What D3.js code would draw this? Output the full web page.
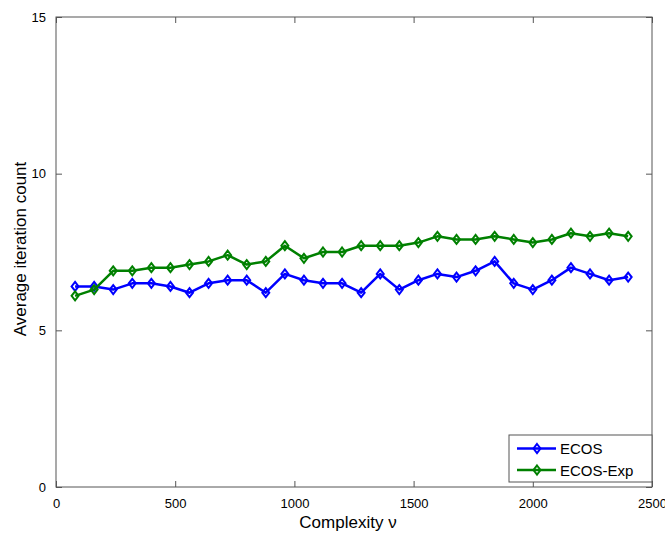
<!DOCTYPE html>
<html>
<head>
<meta charset="utf-8">
<script src="https://cdn.jsdelivr.net/npm/d3@7"></script>
<style>
  body { margin: 0; background: #fff; }
  text { font-family: "Liberation Sans", Arial, sans-serif; }
</style>
</head>
<body>
<div id="viz-container"></div>
<script>
// data
let complexity = [80,160,240,320,400,480,560,640,720,800,880,960,1040,1120,1200,
                  1280,1360,1440,1520,1600,1680,1760,1840,1920,2000,2080,2160,2240,2320,2400];
let ecos    = [6.4,6.4,6.3,6.5,6.5,6.4,6.2,6.5,6.6,6.6,6.2,6.8,6.6,6.5,6.5,
               6.2,6.8,6.3,6.6,6.8,6.7,6.9,7.2,6.5,6.3,6.6,7.0,6.8,6.6,6.7];
let ecosExp = [6.1,6.3,6.9,6.9,7.0,7.0,7.1,7.2,7.4,7.1,7.2,7.7,7.3,7.5,7.5,
               7.7,7.7,7.7,7.8,8.0,7.9,7.9,8.0,7.9,7.8,7.9,8.1,8.0,8.1,8.0];
let seriesNames = ["ECOS", "ECOS-Exp"];
let xTicks = [0,500,1000,1500,2000,2500];
let yTicks = [0,5,10,15];

let colors = ["#0000ff", "#008000"];

let viz = d3.select("#viz-container")
  .append("svg")
    .attr("width", 665)
    .attr("height", 533);

let plotL = 56, plotR = 652, plotT = 17, plotB = 487;

let x = d3.scaleLinear().domain([0, 2500]).range([plotL, plotR]);
let y = d3.scaleLinear().domain([0, 15]).range([plotB, plotT]);

let axisColor = "#555";

// box
viz.append("rect")
  .attr("x", plotL).attr("y", plotT)
  .attr("width", plotR - plotL).attr("height", plotB - plotT)
  .attr("fill", "none").attr("stroke", axisColor).attr("stroke-width", 1);

// inward ticks, all four sides
let tl = 6;
let bx = viz.append("g").attr("transform", "translate(0," + plotB + ")")
  .call(d3.axisBottom(x).tickValues(xTicks).tickSize(-tl).tickPadding(tl + 4).tickFormat(d3.format("d")));
let tx = viz.append("g").attr("transform", "translate(0," + plotT + ")")
  .call(d3.axisTop(x).tickValues(xTicks).tickSize(-tl).tickFormat(""));
let ly = viz.append("g").attr("transform", "translate(" + plotL + ",0)")
  .call(d3.axisLeft(y).tickValues(yTicks).tickSize(-tl).tickPadding(tl + 4));
let ry = viz.append("g").attr("transform", "translate(" + plotR + ",0)")
  .call(d3.axisRight(y).tickValues(yTicks).tickSize(-tl).tickFormat(""));

[bx, tx, ly, ry].forEach(function(g){
  g.select(".domain").remove();
  g.selectAll("line").attr("stroke", axisColor);
  g.selectAll("text").attr("fill", "#000").attr("font-size", 13)
    .attr("font-family", "Liberation Sans, Arial, sans-serif");
});
bx.selectAll("text").attr("dy", "0.85em");

// series
let line = d3.line()
  .x(function(d){ return x(d[0]); })
  .y(function(d){ return y(d[1]); });

let diamond = "M0,-4.5L3.5,0L0,4.5L-3.5,0Z";

[ecos, ecosExp].forEach(function(vals, i){
  let pts = complexity.map(function(c, j){ return [c, vals[j]]; });
  viz.append("path")
    .datum(pts)
    .attr("d", line)
    .attr("fill", "none")
    .attr("stroke", colors[i])
    .attr("stroke-width", 2.5)
    .attr("stroke-linejoin", "round");
  viz.selectAll(".m" + i).data(pts).enter()
    .append("path")
      .attr("class", "m" + i)
      .attr("d", diamond)
      .attr("transform", function(d){ return "translate(" + x(d[0]) + "," + y(d[1]) + ")"; })
      .attr("fill", "none")
      .attr("stroke", colors[i])
      .attr("stroke-width", 2);
});

// axis labels
viz.append("text")
  .text("Complexity \u03bd")
  .attr("x", 348)
  .attr("y", 528)
  .attr("text-anchor", "middle")
  .attr("font-size", 17);

viz.append("text")
  .text("Average iteration count")
  .attr("transform", "translate(26,249) rotate(-90)")
  .attr("text-anchor", "middle")
  .attr("font-size", 17);

// legend
let lg = viz.append("g");
lg.append("rect")
  .attr("x", 509).attr("y", 435)
  .attr("width", 143).attr("height", 47)
  .attr("fill", "#fff").attr("stroke", axisColor).attr("stroke-width", 1);

seriesNames.forEach(function(name, i){
  let yy = 448.5 + i * 21.5;
  lg.append("line")
    .attr("x1", 517).attr("x2", 556)
    .attr("y1", yy).attr("y2", yy)
    .attr("stroke", colors[i]).attr("stroke-width", 2.5);
  lg.append("path")
    .attr("d", diamond)
    .attr("transform", "translate(537," + yy + ")")
    .attr("fill", "none").attr("stroke", colors[i]).attr("stroke-width", 2);
  lg.append("text")
    .text(name)
    .attr("x", 560)
    .attr("y", yy + 5.5)
    .attr("font-size", 15);
});
</script>
</body>
</html>
